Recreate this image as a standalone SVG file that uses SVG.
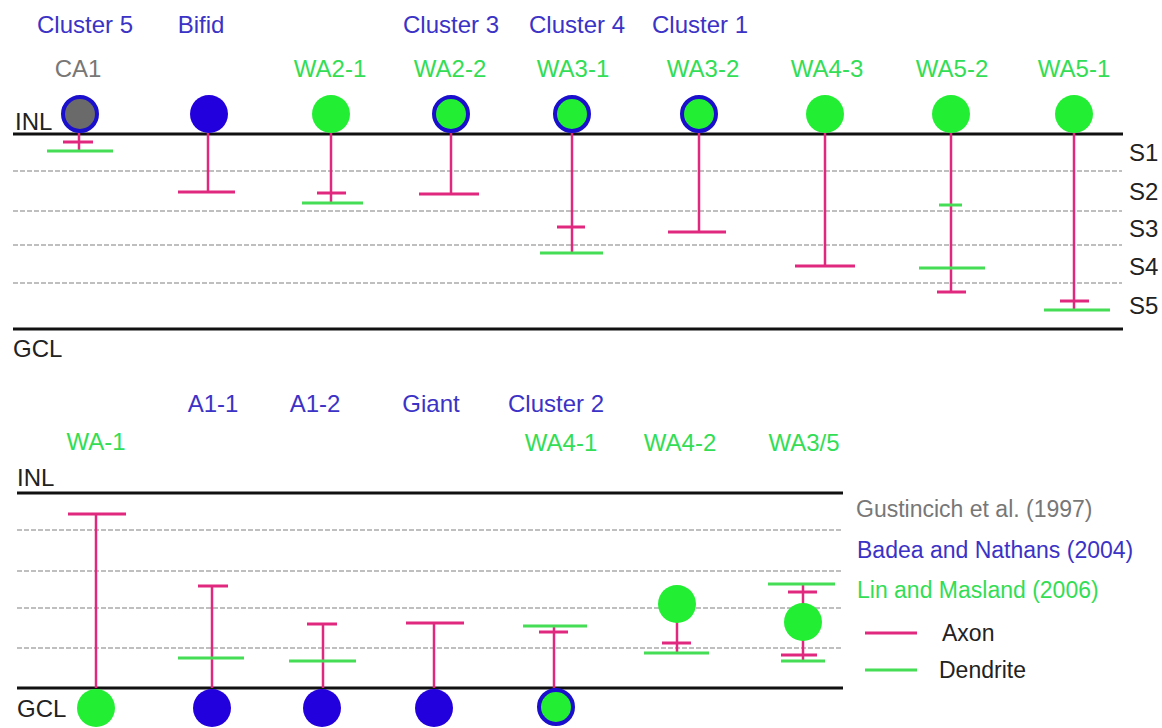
<svg xmlns="http://www.w3.org/2000/svg" width="1162" height="728" viewBox="0 0 1162 728">
<style>
text{font-family:"Liberation Sans",Arial,sans-serif;font-size:24px}
.lg{font-size:23px}
.b{fill:#3b32c6}
.g{fill:#33dd55}
.gr{fill:#777}
.k{fill:#222}
.m{text-anchor:middle}
.layer{stroke:#111;stroke-width:3}
.dash{stroke:#aaa;stroke-width:1.5;stroke-dasharray:5 2}
.ax{stroke:#e0287f;stroke-width:2.5}
.axb{stroke:#e0287f;stroke-width:3}
.de{stroke:#44dd55;stroke-width:3}
.sb{fill:#2200dd}
.sg{fill:#22ee33}
.sbg{fill:#22ee33;stroke:#1a0fcc;stroke-width:4}
.sgr{fill:#6a6a6a;stroke:#1a0fcc;stroke-width:4}
</style>

<g id="layers-top">
<line class="dash" x1="13" y1="171" x2="1122" y2="171"/>
<line class="dash" x1="13" y1="211" x2="1122" y2="211"/>
<line class="dash" x1="13" y1="245" x2="1122" y2="245"/>
<line class="dash" x1="13" y1="283" x2="1122" y2="283"/>
<line class="layer" x1="13" y1="134" x2="1123" y2="134"/>
<line class="layer" x1="13" y1="329" x2="1123" y2="329"/>
<text class="k" x="15" y="130">INL</text>
<text class="k" x="13" y="357">GCL</text>
<text class="k" x="1129" y="161">S1</text>
<text class="k" x="1129" y="200">S2</text>
<text class="k" x="1129" y="237">S3</text>
<text class="k" x="1129" y="275">S4</text>
<text class="k" x="1129" y="314">S5</text>
</g>

<g id="layers-bottom">
<line class="dash" x1="17" y1="530" x2="843" y2="530"/>
<line class="dash" x1="17" y1="571" x2="843" y2="571"/>
<line class="dash" x1="17" y1="608" x2="843" y2="608"/>
<line class="dash" x1="17" y1="648" x2="843" y2="648"/>
<line class="layer" x1="17" y1="493" x2="843" y2="493"/>
<line class="layer" x1="17" y1="688" x2="843" y2="688"/>
<text class="k" x="17" y="486">INL</text>
<text class="k" x="17" y="717">GCL</text>
</g>

<g id="connectors">
<g id="ax-ca1"><line class="ax" x1="79" y1="133" x2="79" y2="151"/><line class="de" x1="47" y1="151" x2="113" y2="151"/><line class="axb" x1="63" y1="142" x2="93" y2="142"/></g>
<g id="ax-bifid"><line class="ax" x1="208" y1="133" x2="208" y2="192"/><line class="axb" x1="178" y1="192" x2="235" y2="192"/></g>
<g id="ax-wa21"><line class="ax" x1="331" y1="133" x2="331" y2="203"/><line class="axb" x1="317" y1="193" x2="346" y2="193"/><line class="de" x1="302" y1="203" x2="363" y2="203"/></g>
<g id="ax-wa22"><line class="ax" x1="451" y1="133" x2="451" y2="194"/><line class="axb" x1="419" y1="194" x2="479" y2="194"/></g>
<g id="ax-wa31"><line class="ax" x1="572" y1="133" x2="572" y2="253"/><line class="axb" x1="557" y1="227" x2="585" y2="227"/><line class="de" x1="540" y1="253" x2="603" y2="253"/></g>
<g id="ax-wa32"><line class="ax" x1="699" y1="133" x2="699" y2="232"/><line class="axb" x1="668" y1="232" x2="726" y2="232"/></g>
<g id="ax-wa43"><line class="ax" x1="825" y1="133" x2="825" y2="266"/><line class="axb" x1="795" y1="266" x2="855" y2="266"/></g>
<g id="ax-wa52"><line class="ax" x1="951" y1="133" x2="951" y2="292"/><line class="de" x1="939" y1="205" x2="962" y2="205"/><line class="de" x1="919" y1="268" x2="985" y2="268"/><line class="axb" x1="937" y1="292" x2="966" y2="292"/></g>
<g id="ax-wa51"><line class="ax" x1="1074" y1="133" x2="1074" y2="310"/><line class="axb" x1="1060" y1="301" x2="1089" y2="301"/><line class="de" x1="1044" y1="310" x2="1110" y2="310"/></g>
<g id="ax-wa1"><line class="ax" x1="96" y1="514" x2="96" y2="688"/><line class="axb" x1="68" y1="514" x2="126" y2="514"/></g>
<g id="ax-a11"><line class="ax" x1="212" y1="586" x2="212" y2="688"/><line class="axb" x1="198" y1="586" x2="228" y2="586"/><line class="de" x1="178" y1="658" x2="244" y2="658"/></g>
<g id="ax-a12"><line class="ax" x1="323" y1="624" x2="323" y2="688"/><line class="axb" x1="307" y1="624" x2="337" y2="624"/><line class="de" x1="289" y1="661" x2="356" y2="661"/></g>
<g id="ax-giant"><line class="ax" x1="434" y1="623" x2="434" y2="688"/><line class="axb" x1="406" y1="623" x2="464" y2="623"/></g>
<g id="ax-wa41"><line class="ax" x1="554" y1="626" x2="554" y2="688"/><line class="de" x1="523" y1="626" x2="587" y2="626"/><line class="axb" x1="539" y1="632" x2="568" y2="632"/></g>
<g id="ax-wa42"><line class="ax" x1="677" y1="620" x2="677" y2="653"/><line class="axb" x1="662" y1="643" x2="691" y2="643"/><line class="de" x1="644" y1="653" x2="709" y2="653"/></g>
<g id="ax-wa35"><line class="ax" x1="803" y1="584" x2="803" y2="661"/><line class="de" x1="768" y1="584" x2="835" y2="584"/><line class="axb" x1="788" y1="592" x2="817" y2="592"/><line class="axb" x1="781" y1="655" x2="817" y2="655"/><line class="de" x1="781" y1="661" x2="825" y2="661"/></g>
</g>

<g id="cell-ca1"><text class="b m" x="85" y="33">Cluster 5</text><text class="gr m" x="78" y="77">CA1</text><circle class="sgr" cx="80" cy="114" r="17"/></g>
<g id="cell-bifid"><text class="b m" x="201" y="33">Bifid</text><circle class="sb" cx="209" cy="114" r="19"/></g>
<g id="cell-wa21"><text class="g m" x="330" y="77">WA2-1</text><circle class="sg" cx="331" cy="114" r="19"/></g>
<g id="cell-wa22"><text class="b m" x="451" y="33">Cluster 3</text><text class="g m" x="450" y="77">WA2-2</text><circle class="sbg" cx="451" cy="114" r="17"/></g>
<g id="cell-wa31"><text class="b m" x="577" y="33">Cluster 4</text><text class="g m" x="573" y="77">WA3-1</text><circle class="sbg" cx="572" cy="114" r="17"/></g>
<g id="cell-wa32"><text class="b m" x="700" y="33">Cluster 1</text><text class="g m" x="703" y="77">WA3-2</text><circle class="sbg" cx="699" cy="114" r="17"/></g>
<g id="cell-wa43"><text class="g m" x="827" y="77">WA4-3</text><circle class="sg" cx="825" cy="114" r="19"/></g>
<g id="cell-wa52"><text class="g m" x="952" y="77">WA5-2</text><circle class="sg" cx="951" cy="114" r="19"/></g>
<g id="cell-wa51"><text class="g m" x="1074" y="77">WA5-1</text><circle class="sg" cx="1074" cy="114" r="19"/></g>

<g id="cell-wa1"><text class="g m" x="96" y="450">WA-1</text><circle class="sg" cx="96" cy="708" r="19"/></g>
<g id="cell-a11"><text class="b m" x="213" y="412">A1-1</text><circle class="sb" cx="212" cy="708" r="19"/></g>
<g id="cell-a12"><text class="b m" x="315" y="412">A1-2</text><circle class="sb" cx="322" cy="708" r="19"/></g>
<g id="cell-giant"><text class="b m" x="431" y="412">Giant</text><circle class="sb" cx="434" cy="708" r="19"/></g>
<g id="cell-wa41"><text class="b m" x="556" y="412">Cluster 2</text><text class="g m" x="561" y="451">WA4-1</text><circle class="sbg" cx="556" cy="707" r="17"/></g>
<g id="cell-wa42"><text class="g m" x="680" y="451">WA4-2</text><circle class="sg" cx="677" cy="604" r="19"/></g>
<g id="cell-wa35"><text class="g m" x="804" y="451">WA3/5</text><circle class="sg" cx="803" cy="622" r="19"/></g>

<g id="legend">
<text class="gr lg" x="856" y="517">Gustincich et al. (1997)</text>
<text class="b lg" x="857" y="558">Badea and Nathans (2004)</text>
<text class="g lg" x="857" y="598">Lin and Masland (2006)</text>
<line class="axb" x1="865" y1="633" x2="917" y2="633"/>
<text class="k lg" x="942" y="641">Axon</text>
<line class="de" x1="865" y1="670" x2="917" y2="670"/>
<text class="k lg" x="939" y="678">Dendrite</text>
</g>
</svg>
